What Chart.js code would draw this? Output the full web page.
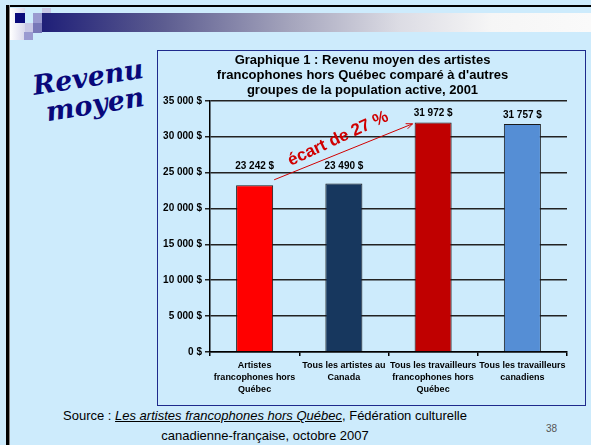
<!DOCTYPE html>
<html>
<head>
<meta charset="utf-8">
<script src="https://cdn.jsdelivr.net/npm/chart.js@4"></script>
<style>
  html, body { margin: 0; padding: 0; }
  body { width: 591px; height: 445px; background: #cdebfc; position: relative; overflow: hidden;
         font-family: "Liberation Sans", Arial, sans-serif; }
  .abs { position: absolute; }
  #cadre-haut { left: 6px; top: 5px; width: 585px; height: 2px; background: #000; }
  #cadre-gauche { left: 6px; top: 5px; width: 3px; height: 440px; background: #000; border-right: 1px solid #888; }
  #bandeau { left: 42px; top: 13px; width: 549px; height: 19px;
             background: linear-gradient(to right, #1f1f78 0%, #5c5c90 22%, #a4a4bc 45%, #dcdce4 65%, #f6f6f6 82%, #fafafa 100%); }
  .carre { position: absolute; width: 9px; height: 10px; }
  .titre-diapo { position: absolute; font-family: "DejaVu Serif", serif; font-weight: bold; font-style: italic;
                 font-size: 27px; line-height: 1; color: #08087a; white-space: nowrap;
                 transform: translate(-50%, -50%) rotate(-9deg); }
  #boite { left: 157px; top: 50px; width: 427px; height: 354px; border: 1px solid #1e2a8c; }
  #source { left: 0; top: 406px; width: 530px; text-align: center; font-size: 13px; line-height: 20px; color: #000; }
  #source u { font-style: italic; }
  #numero { left: 546px; top: 423px; font-size: 10px; color: #555; }
</style>
</head>
<body>
<div class="abs" id="cadre-haut"></div>
<div class="abs" id="cadre-gauche"></div>
<div class="abs" id="bandeau"></div>
<div class="carre" style="left:10px;top:8px;width:15px;height:32px;background:linear-gradient(to right,#ffffff,#d8d8ec);"></div>
<div class="carre" style="left:15px;top:13px;width:10px;height:10px;background:#0a0a7a;"></div>
<div class="carre" style="left:25px;top:23px;background:#c8c8e6;"></div>
<div class="carre" style="left:33px;top:13px;background:#9a9ad0;"></div>
<div class="carre" style="left:42px;top:8px;height:5px;background:#c8c8e6;"></div>
<div class="carre" style="left:24px;top:32px;height:8px;background:#9a9ad0;"></div>
<div class="carre" style="left:33px;top:23px;background:#7878b8;"></div>

<div class="titre-diapo" style="left:88px;top:77px;">Revenu</div>
<div class="titre-diapo" style="left:95px;top:104px;">moyen</div>

<div class="abs" id="boite"><canvas id="graphique" width="427" height="354"></canvas></div>

<div class="abs" id="source">Source : <u>Les artistes francophones hors Québec</u>, Fédération culturelle<br>canadienne-française, octobre 2007</div>
<div class="abs" id="numero">38</div>

<script>
// Graphique 1 : revenu moyen des artistes francophones hors Québec, 2001

var categories = [
    ['Artistes', 'francophones hors', 'Québec'],
    ['Tous les artistes au', 'Canada'],
    ['Tous les travailleurs', 'francophones hors', 'Québec'],
    ['Tous les travailleurs', 'canadiens']
];
var revenus = [23242, 23490, 31972, 31757];
var couleurs = ['#ff0000', '#17375e', '#c00000', '#558ed5'];
var ticksY = [0, 5000, 10000, 15000, 20000, 25000, 30000, 35000];
var titre = ['Graphique 1 : Revenu moyen des artistes',
    'francophones hors Québec comparé à d\'autres',
    'groupes de la population active, 2001'];
var texteEcart = 'écart de 27 %';
// flèche : de la barre 0 à la barre 2 (valeurs en $)
var flecheDe = 24000;
var flecheA = 31800;

var police = '"Liberation Sans", Arial, sans-serif';

// Format « 23 242 $ »
function formatDollars(v) {
    return String(v).replace(/\B(?=(\d{3})+(?!\d))/g, ' ') + ' $';
}

var pluginEtiquettes = {
    id: 'etiquettes',
    afterDatasetsDraw: function (chart) {
        var ctx = chart.ctx;
        var barres = chart.getDatasetMeta(0).data;
        var y = chart.scales.y;

        ctx.save();
        ctx.fillStyle = '#000';
        ctx.font = 'bold 10px ' + police;
        ctx.textAlign = 'center';
        ctx.textBaseline = 'middle';
        for (var i = 0; i < barres.length; i++) {
            var cy = barres[i].y - 9;
            // on évite que l'étiquette chevauche une ligne de la grille
            for (var j = 0; j < ticksY.length; j++) {
                var py = y.getPixelForValue(ticksY[j]);
                if (Math.abs(cy - py) < 6) {
                    cy = py - 6;
                }
            }
            ctx.fillText(formatDollars(revenus[i]), barres[i].x, cy);
        }

        // Flèche de l'écart
        var b0 = barres[0], b2 = barres[2];
        var x1 = b0.x + b0.width / 2 + 1, y1 = y.getPixelForValue(flecheDe);
        var x2 = b2.x - b2.width / 2 - 2, y2 = y.getPixelForValue(flecheA);
        var ang = Math.atan2(y2 - y1, x2 - x1);
        ctx.strokeStyle = '#d00000';
        ctx.lineWidth = 1;
        ctx.beginPath();
        ctx.moveTo(x1, y1);
        ctx.lineTo(x2, y2);
        ctx.moveTo(x2 - 7 * Math.cos(ang - 0.4), y2 - 7 * Math.sin(ang - 0.4));
        ctx.lineTo(x2, y2);
        ctx.lineTo(x2 - 7 * Math.cos(ang + 0.4), y2 - 7 * Math.sin(ang + 0.4));
        ctx.stroke();

        var mx = (x1 + x2) / 2 + 14 * Math.sin(ang);
        var my = (y1 + y2) / 2 - 14 * Math.cos(ang);
        ctx.translate(mx, my);
        ctx.rotate(ang - 0.05);
        ctx.fillStyle = '#d00000';
        ctx.font = 'bold 17px ' + police;
        ctx.fillText(texteEcart, 0, 0);
        ctx.restore();
    }
};

var chart = new Chart(document.getElementById('graphique').getContext('2d'), {
    type: 'bar',
    data: {
        labels: categories,
        datasets: [{
            data: revenus,
            backgroundColor: couleurs,
            borderColor: '#1a1a1a',
            borderWidth: 1,
            barPercentage: 0.415,
            categoryPercentage: 1
        }]
    },
    options: {
        responsive: false,
        animation: false,
        layout: { padding: { left: 0, right: 18, top: 0, bottom: 0 } },
        plugins: {
            legend: { display: false },
            tooltip: { enabled: false },
            title: {
                display: true,
                text: titre,
                color: '#000',
                font: { family: police, size: 13, weight: 'bold', lineHeight: 1.15 },
                padding: { top: 2, bottom: 3 }
            }
        },
        scales: {
            y: {
                min: 0,
                max: 35000,
                afterBuildTicks: function (scale) {
                    scale.ticks = ticksY.map(function (v) { return { value: v }; });
                },
                afterFit: function (scale) { scale.width = 52; },
                ticks: {
                    color: '#000',
                    padding: 3,
                    font: { family: police, size: 10, weight: 'bold' },
                    callback: function (v) { return formatDollars(v); }
                },
                grid: { color: '#222', lineWidth: 1.5, tickLength: 5 },
                border: { color: '#000', width: 1.5 }
            },
            x: {
                afterFit: function (scale) { scale.height = 53; },
                ticks: {
                    color: '#000',
                    padding: 3,
                    maxRotation: 0,
                    autoSkip: false,
                    font: { family: police, size: 9, weight: 'bold', lineHeight: 1.35 }
                },
                grid: { drawOnChartArea: false, tickLength: 4, color: '#000', lineWidth: 1.5, offset: true },
                border: { color: '#000', width: 1.5 }
            }
        }
    },
    plugins: [pluginEtiquettes]
});
</script>
</body>
</html>
